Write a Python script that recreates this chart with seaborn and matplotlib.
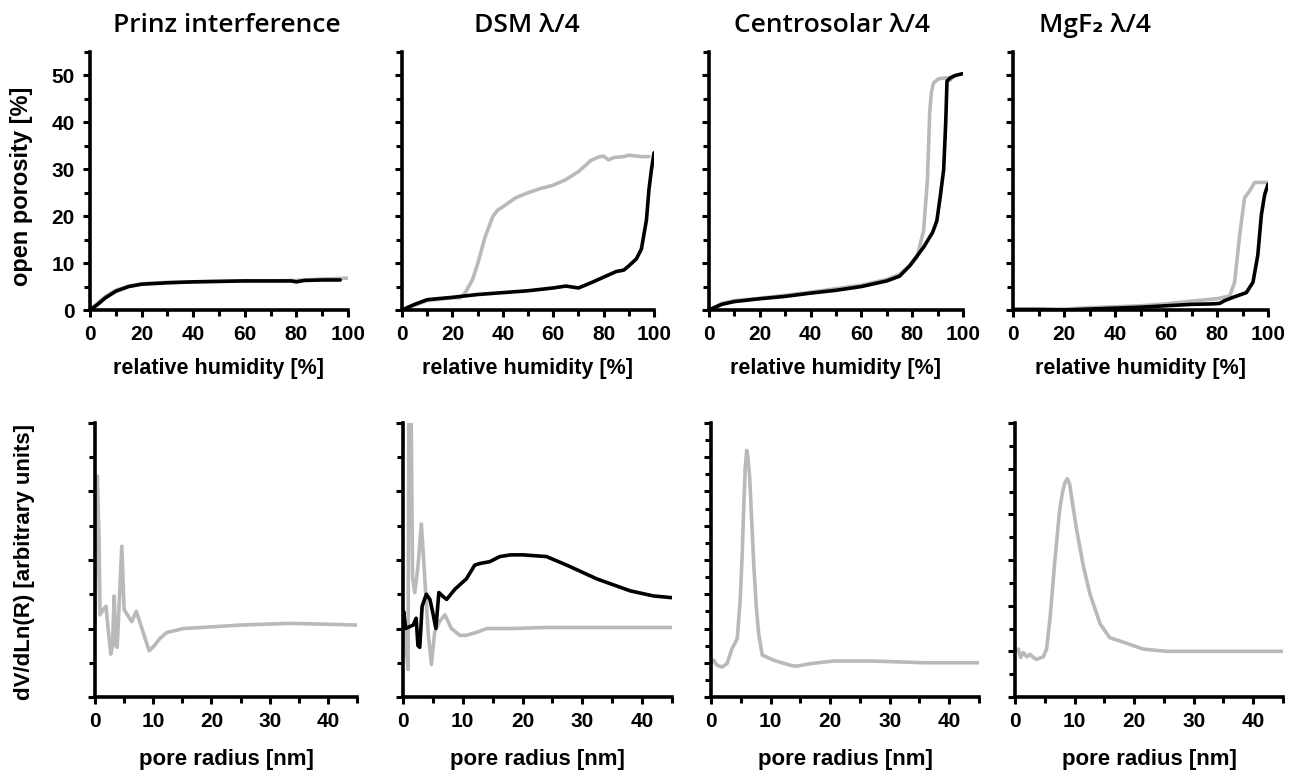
import numpy as np
import pandas as pd
import matplotlib.pyplot as plt
import seaborn as sns
from matplotlib.ticker import MultipleLocator

# --- panel titles ---
titles = ["Prinz interference", "DSM \u03bb/4", "Centrosolar \u03bb/4", "MgF\u2082 \u03bb/4"]

# --- top row: open porosity [%] vs relative humidity [%] ---
# black = adsorption branch, grey = desorption branch
prinz_rh_ads = [0, 3, 6, 10, 15, 20, 30, 40, 50, 60, 70, 78, 80, 83, 90, 97]
prinz_por_ads = [0, 1.2, 2.6, 4.0, 5.0, 5.5, 5.8, 6.0, 6.1, 6.2, 6.2, 6.2, 6.0, 6.3, 6.4, 6.4]
prinz_rh_des = [0, 3, 6, 10, 15, 20, 30, 40, 50, 60, 70, 80, 90, 100]
prinz_por_des = [0, 1.5, 2.9, 4.2, 5.1, 5.6, 5.9, 6.0, 6.1, 6.2, 6.2, 6.3, 6.6, 6.8]

dsm_rh_ads = [0, 5, 10, 20, 30, 40, 50, 60, 65, 70, 75, 80, 85, 88, 90, 93, 95, 97, 98, 99, 100]
dsm_por_ads = [0, 1.2, 2.2, 2.7, 3.3, 3.7, 4.1, 4.7, 5.1, 4.7, 5.8, 7.0, 8.2, 8.5, 9.4, 10.9, 13.0, 19.2, 25.7, 30.0, 33.5]
dsm_rh_des = [0, 5, 10, 20, 23, 25, 28, 30, 33, 36, 38, 40, 45, 50, 55, 60, 65, 70, 75, 78, 80, 82, 84, 88, 90, 95, 98]
dsm_por_des = [0, 1.0, 2.0, 2.6, 2.6, 3.6, 6.5, 9.8, 15.6, 19.9, 21.3, 22.0, 23.9, 25.0, 25.9, 26.6, 27.8, 29.5,
               31.9, 32.6, 32.8, 32.0, 32.5, 32.7, 33.0, 32.7, 32.7]

centro_rh_ads = [0, 5, 10, 20, 30, 40, 50, 60, 70, 75, 79, 84.5, 88, 89.7, 91, 92.4, 93.2, 93.7, 95, 97, 100]
centro_por_ads = [0, 1.2, 1.8, 2.4, 2.9, 3.6, 4.2, 5.0, 6.2, 7.2, 9.4, 13.4, 16.5, 19, 24, 30, 40, 48.8, 49.5, 50.0, 50.4]
centro_rh_des = [0, 5, 10, 20, 40, 60, 70, 75, 79, 81.9, 84.5, 86, 86.9, 87.6, 88.4, 90.4, 93.7, 95, 96.3]
centro_por_des = [0, 1.4, 2.0, 2.5, 3.8, 5.3, 6.5, 7.6, 9.5, 11.2, 17, 27.8, 42.3, 46.5, 48.4, 49.3, 49.5, 49.0, 49.9]

mgf2_rh_ads = [0, 10, 20, 30, 40, 50, 60, 70, 78, 81, 83, 86.3, 91.5, 94.1, 96, 97.4, 98.7, 100]
mgf2_por_ads = [0.1, 0.1, 0.0, 0.2, 0.4, 0.6, 0.9, 1.2, 1.3, 1.4, 2.0, 2.7, 3.7, 5.9, 11.7, 20.3, 24.6, 26.8]
mgf2_rh_des = [0, 10, 20, 30, 40, 50, 60, 70, 80, 85, 86.9, 88.9, 90.8, 92.8, 94.8, 100]
mgf2_por_des = [0.2, 0.2, 0.2, 0.5, 0.7, 0.9, 1.3, 1.9, 2.4, 3.0, 5.9, 16, 23.9, 25.4, 27.2, 27.2]

# --- bottom row: pore size distribution dV/dLn(R) (arbitrary units) vs pore radius [nm] ---
prinz_r = [0, 0.4, 0.7, 0.86, 1.4, 1.9, 2.1, 2.7, 3.0, 3.3, 3.6, 3.8, 4.1, 4.6, 5.0, 6.3, 7.1, 9.3,
           10.2, 11.1, 12.3, 15.2, 20.3, 24.9, 33.4, 40.9, 45]
prinz_psd = [2.1, 6.45, 4.6, 2.4, 2.55, 2.65, 2.25, 1.25, 1.5, 2.95, 1.5, 1.45, 2.5, 4.4, 2.55, 2.2, 2.5, 1.35,
             1.5, 1.7, 1.88, 2.0, 2.05, 2.1, 2.15, 2.12, 2.1]

dsm_r_des = [0.3, 0.84, 1.0, 1.3, 1.6, 1.96, 2.5, 3.07, 3.6, 4.2, 4.75, 5.3, 6.1, 7.0, 8.1, 9.5, 10.6,
             12.5, 14, 18.4, 24, 45]
dsm_psd_des = [1.98, 0.8, 9.5, 9.5, 3.5, 3.05, 3.8, 5.05, 3.6, 1.9, 0.95, 1.9, 2.2, 2.4, 2.0, 1.8, 1.8,
               1.9, 2.0, 2.0, 2.03, 2.03]
dsm_r_ads = [0, 0.1, 0.45, 1.7, 2.2, 2.5, 2.8, 3.2, 3.9, 4.5, 5.0, 5.5, 6.0, 6.6, 7.3, 8.7, 10.6, 12.0,
             12.9, 14.5, 16.2, 18, 20.1, 24, 27.4, 32.4, 38, 41.9, 45]
dsm_psd_ads = [2.0, 2.5, 2.0, 2.1, 2.3, 1.5, 1.45, 2.65, 3.0, 2.85, 2.45, 2.0, 3.05, 2.95, 2.85, 3.15,
               3.45, 3.85, 3.9, 3.95, 4.1, 4.15, 4.15, 4.1, 3.85, 3.45, 3.1, 2.95, 2.9]

centro_r = [0, 0.45, 1.0, 1.85, 2.7, 3.5, 4.4, 4.9, 5.2, 5.5, 5.75, 6.0, 6.2, 6.5, 6.9, 7.2, 7.6, 8.0,
            8.6, 10.5, 13.3, 14.4, 16.7, 20.6, 27.3, 35.7, 45]
centro_psd = [1.95, 2.15, 1.85, 1.75, 1.95, 2.8, 3.4, 5.65, 8.0, 11.1, 13.4, 14.4, 14.0, 12.8, 9.8, 7.6, 5.3,
              3.7, 2.45, 2.15, 1.85, 1.8, 1.95, 2.1, 2.1, 2.0, 2.0]

mgf2_r = [0, 0.56, 0.95, 1.4, 2.0, 2.5, 3.1, 3.6, 4.75, 5.3, 5.9, 6.7, 7.5, 8.0, 8.4, 8.8, 9.2, 9.5, 10.3,
          11.5, 12.6, 14.3, 15.9, 18.2, 21.5, 25.4, 45]
mgf2_psd = [2.0, 2.1, 1.73, 1.95, 1.76, 1.87, 1.73, 1.65, 1.76, 2.1, 3.5, 6.0, 8.2, 9.0, 9.4, 9.56, 9.3, 8.75,
            7.4, 5.7, 4.5, 3.2, 2.6, 2.4, 2.1, 2.0, 2.0]

top_series = [
    [(prinz_rh_des, prinz_por_des, "des"), (prinz_rh_ads, prinz_por_ads, "ads")],
    [(dsm_rh_des, dsm_por_des, "des"), (dsm_rh_ads, dsm_por_ads, "ads")],
    [(centro_rh_des, centro_por_des, "des"), (centro_rh_ads, centro_por_ads, "ads")],
    [(mgf2_rh_des, mgf2_por_des, "des"), (mgf2_rh_ads, mgf2_por_ads, "ads")],
]
bottom_series = [
    [(prinz_r, prinz_psd, "des")],
    [(dsm_r_des, dsm_psd_des, "des"), (dsm_r_ads, dsm_psd_ads, "ads")],
    [(centro_r, centro_psd, "des")],
    [(mgf2_r, mgf2_psd, "des")],
]
bottom_ymax = [8, 8, 16, 12]

colors = {"ads": "black", "des": "#b9b9b9"}

sns.set_theme(style="ticks")
plt.rcParams["font.family"] = ["Liberation Sans", "DejaVu Sans"]
plt.rcParams["font.weight"] = "bold"
for key in ["text.color", "axes.labelcolor", "xtick.color", "ytick.color"]:
    plt.rcParams[key] = "black"

W, H = 1296, 775
fig = plt.figure(figsize=(W / 100, H / 100), dpi=100)

# axes rectangles in pixels (left, top, right, bottom)
top_left = [90, 402, 709, 1013]
top_right = [348, 654, 963, 1268]
bot_left = [95, 403, 711, 1015]
bot_right = [357, 672, 979, 1283]
title_x = [227, 527, 832, 1095]


def make_ax(l, t, r, b):
    return fig.add_axes([l / W, 1 - b / H, (r - l) / W, (b - t) / H])


def style_ax(ax):
    sns.despine(ax=ax)
    for s in ["left", "bottom"]:
        ax.spines[s].set_linewidth(2.6)
        ax.spines[s].set_color("black")
    ax.tick_params(which="major", length=5, width=2.2, color="black", labelsize=15, pad=6,
                   labelcolor="black")
    ax.tick_params(which="minor", length=4, width=2.2, color="black")
    ax.set_facecolor("white")


for i in range(4):
    # top row
    ax = make_ax(top_left[i], 52, top_right[i], 310)
    for xs, ys, kind in top_series[i]:
        df = pd.DataFrame({"x": xs, "y": ys})
        sns.lineplot(data=df, x="x", y="y", ax=ax, sort=False, estimator=None,
                     color=colors[kind], linewidth=2.6)
    ax.set_xlim(0, 100)
    ax.set_ylim(0, 55)
    ax.xaxis.set_major_locator(MultipleLocator(20))
    ax.xaxis.set_minor_locator(MultipleLocator(10))
    ax.yaxis.set_major_locator(MultipleLocator(10))
    ax.yaxis.set_minor_locator(MultipleLocator(5))
    style_ax(ax)
    if i > 0:
        ax.set_yticklabels([])
    ax.set_ylabel("")
    ax.set_xlabel("relative humidity [%]", fontsize=15.5, fontweight="bold", labelpad=10)
    for lab in ax.get_xticklabels() + ax.get_yticklabels():
        lab.set_fontweight("bold")

    fig.text(title_x[i] / W, 1 - 26 / H, titles[i], ha="center", va="center",
             fontsize=19, fontweight="semibold", family=["Open Sans", "DejaVu Sans"])

    # bottom row
    ax = make_ax(bot_left[i], 423, bot_right[i], 697)
    for xs, ys, kind in bottom_series[i]:
        df = pd.DataFrame({"x": xs, "y": ys})
        sns.lineplot(data=df, x="x", y="y", ax=ax, sort=False, estimator=None,
                     color=colors[kind], linewidth=2.6)
    ax.set_xlim(0, 45)
    ax.set_ylim(0, bottom_ymax[i])
    ax.xaxis.set_major_locator(MultipleLocator(10))
    ax.xaxis.set_minor_locator(MultipleLocator(5))
    ax.yaxis.set_major_locator(MultipleLocator(2))
    ax.yaxis.set_minor_locator(MultipleLocator(1))
    style_ax(ax)
    ax.set_yticklabels([])
    ax.set_ylabel("")
    ax.set_xlabel("pore radius [nm]", fontsize=16, fontweight="bold", labelpad=13)
    for lab in ax.get_xticklabels():
        lab.set_fontweight("bold")

fig.text(22 / W, 1 - 186 / H, "open porosity [%]", rotation=90, ha="center", va="center",
         fontsize=17, fontweight="bold")
fig.text(25 / W, 1 - 562 / H, "dV/dLn(R) [arbitrary units]", rotation=90, ha="center", va="center",
         fontsize=16, fontweight="bold")

fig.savefig("out.png", dpi=100)
